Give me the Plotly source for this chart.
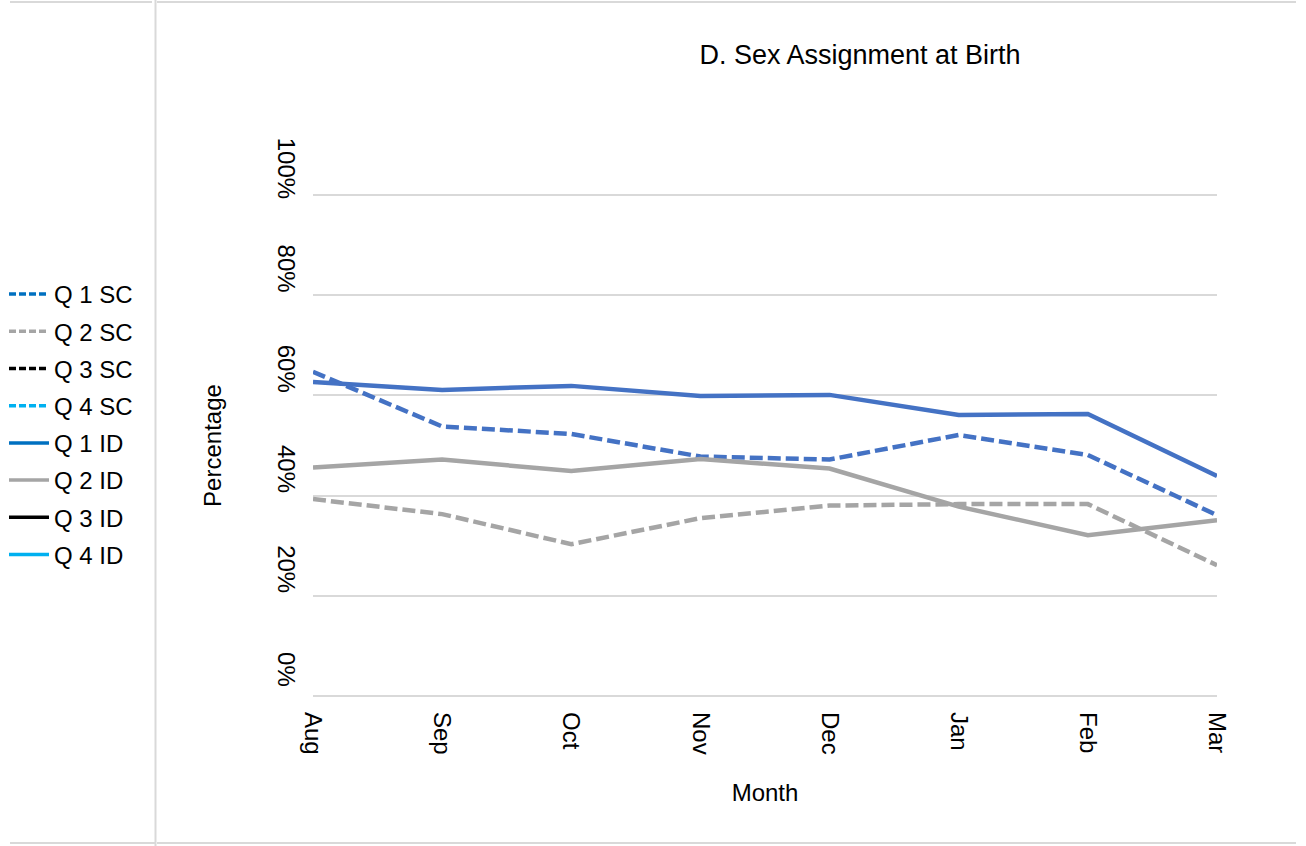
import plotly.graph_objects as go

months = ["Aug", "Sep", "Oct", "Nov", "Dec", "Jan", "Feb", "Mar"]
q1_sc = [0.647, 0.538, 0.523, 0.478, 0.472, 0.521, 0.481, 0.361]
q2_sc = [0.393, 0.363, 0.303, 0.355, 0.380, 0.383, 0.383, 0.261]
q3_sc = []
q4_sc = []
q1_id = [0.627, 0.611, 0.619, 0.599, 0.601, 0.561, 0.563, 0.439]
q2_id = [0.456, 0.472, 0.449, 0.473, 0.454, 0.378, 0.321, 0.351]
q3_id = []
q4_id = []

legend_names = ["Q 1 SC", "Q 2 SC", "Q 3 SC", "Q 4 SC", "Q 1 ID", "Q 2 ID", "Q 3 ID", "Q 4 ID"]
legend_colors = ["#0070C0", "#A5A5A5", "#000000", "#00B0F0", "#0070C0", "#A5A5A5", "#000000", "#00B0F0"]
line_colors = ["#4472C4", "#A5A5A5", "#000000", "#00B0F0", "#4472C4", "#A5A5A5", "#000000", "#00B0F0"]
series = [q1_sc, q2_sc, q3_sc, q4_sc, q1_id, q2_id, q3_id, q4_id]
y_ticks = [0, 0.2, 0.4, 0.6, 0.8, 1.0]
y_tick_text = ["0%", "20%", "40%", "60%", "80%", "100%"]

FONT = "Arial, Liberation Sans, sans-serif"
W, H = 1306, 846
PAD = 0.01
SCALE = 501.0  # pixels per unit (0%..100%)
L, R = 313, 89
T = int(round(195 - PAD * SCALE))
B = int(round(846 - 696 - PAD * SCALE))
PW, PH = W - L - R, H - T - B


def px(x):
    return (x - L) / PW


def py(y):
    return (H - B - y) / PH


fig = go.Figure()

# data lines
for name, vals, col in zip(legend_names, series, line_colors):
    dash = "13px,5px" if "SC" in name else "solid"
    fig.add_trace(go.Scatter(
        x=months[:len(vals)], y=vals, mode="lines", name=name,
        line=dict(color=col, width=4.5, dash=dash),
        showlegend=False, hoverinfo="skip"))

# legend entries
for i, (name, col) in enumerate(zip(legend_names, legend_colors)):
    dash = "7px,3px" if "SC" in name else "solid"
    fig.add_trace(go.Scatter(
        x=[None], y=[None], mode="lines", name=name,
        line=dict(color=col, width=3.5, dash=dash),
        legendgroup=f"g{i}", showlegend=True))

frame = "#D9D9D9"
shapes = []
for x0, x1, y in [(10, 152, 2), (157, 1296, 2), (10, 155, 843), (157, 1296, 843)]:
    shapes.append(dict(type="line", xref="paper", yref="paper",
                       x0=px(x0), x1=px(x1), y0=py(y), y1=py(y),
                       line=dict(color=frame, width=2)))
shapes.append(dict(type="line", xref="paper", yref="paper",
                   x0=px(155.5), x1=px(155.5), y0=py(0), y1=py(846),
                   line=dict(color=frame, width=2)))

fig.update_layout(
    width=W, height=H,
    margin=dict(l=L, r=R, t=T, b=B, autoexpand=False),
    paper_bgcolor="white", plot_bgcolor="white",
    font=dict(family=FONT, size=24, color="#000000"),
    title=dict(text="D. Sex Assignment at Birth", x=px(860), xref="paper",
               xanchor="center", y=1 - 55 / H, yref="container", yanchor="middle",
               font=dict(family=FONT, size=27, color="#000000")),
    showlegend=True,
    legend=dict(x=px(4), y=py(272), xref="paper", yref="paper",
                xanchor="left", yanchor="top", tracegroupgap=3,
                traceorder="grouped", bgcolor="rgba(0,0,0,0)",
                font=dict(family=FONT, size=24), itemwidth=40),
    shapes=shapes,
)

fig.update_xaxes(
    type="category", categoryorder="array", categoryarray=months,
    range=[0, len(months) - 1], tickangle=90, showgrid=False,
    showline=False, zeroline=False, ticks="", ticklabelstandoff=10,
    title=dict(text="Month", standoff=30, font=dict(size=24)),
)
fig.update_yaxes(
    range=[-PAD, 1 + PAD], tickvals=y_ticks, ticktext=y_tick_text, tickangle=90,
    showgrid=True, gridcolor=frame, gridwidth=1.5, zeroline=False,
    showline=False, ticks="", ticklabelstandoff=10, ticklabelshift=-23,
    title=dict(text="Percentage", standoff=44, font=dict(size=24)),
)

fig.write_html("out.html", config={"displayModeBar": False},
               post_script="document.body.style.margin='0';")
